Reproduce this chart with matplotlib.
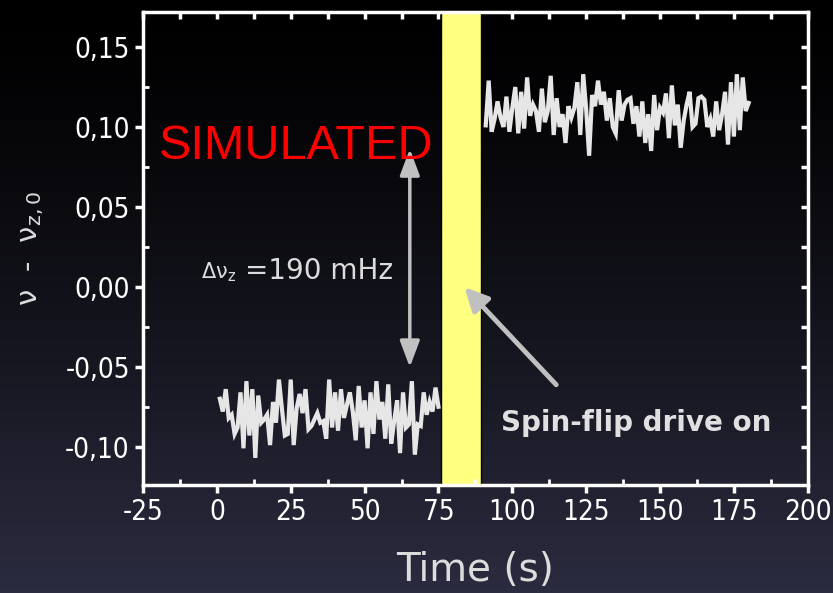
import numpy as np
import matplotlib.pyplot as plt
from matplotlib.ticker import FixedLocator, MultipleLocator, FuncFormatter

plt.rcParams['axes.unicode_minus'] = False

# lower branch (before spin flip), t = 1..75 s
t_low = np.arange(1, 76)
nu_low = [-0.070, -0.078, -0.064, -0.082, -0.080, -0.092, -0.088, -0.066, -0.101, -0.059,
          -0.093, -0.064, -0.107, -0.068, -0.085, -0.083, -0.080, -0.099, -0.072, -0.085,
          -0.058, -0.076, -0.093, -0.092, -0.058, -0.099, -0.076, -0.067, -0.079, -0.064,
          -0.089, -0.087, -0.083, -0.079, -0.085, -0.084, -0.095, -0.058, -0.088, -0.066,
          -0.090, -0.064, -0.082, -0.074, -0.066, -0.078, -0.096, -0.062, -0.088, -0.071,
          -0.101, -0.066, -0.092, -0.059, -0.083, -0.072, -0.095, -0.061, -0.098, -0.084,
          -0.071, -0.104, -0.066, -0.088, -0.086, -0.059, -0.105, -0.086, -0.087, -0.066,
          -0.080, -0.072, -0.078, -0.063, -0.075]

# upper branch (after spin flip), t = 91..180 s
t_high = np.arange(91, 181)
nu_high = [0.101, 0.129, 0.097, 0.105, 0.116, 0.106, 0.100, 0.119, 0.097, 0.112,
           0.125, 0.096, 0.122, 0.099, 0.131, 0.107, 0.114, 0.110, 0.097, 0.124,
           0.103, 0.110, 0.132, 0.095, 0.118, 0.100, 0.108, 0.090, 0.113, 0.106,
           0.112, 0.128, 0.095, 0.133, 0.111, 0.082, 0.120, 0.113, 0.129, 0.114,
           0.122, 0.104, 0.118, 0.100, 0.096, 0.123, 0.104, 0.114, 0.117, 0.118,
           0.102, 0.113, 0.094, 0.116, 0.090, 0.108, 0.085, 0.120, 0.098, 0.112,
           0.109, 0.121, 0.093, 0.126, 0.101, 0.114, 0.087, 0.104, 0.114, 0.122,
           0.100, 0.102, 0.118, 0.119, 0.117, 0.100, 0.105, 0.094, 0.116, 0.098,
           0.108, 0.122, 0.089, 0.128, 0.094, 0.133, 0.098, 0.131, 0.110, 0.115]

drive_on = (76, 89.5)
x_ticks = [-25, 0, 25, 50, 75, 100, 125, 150, 175, 200]
y_ticks = [-0.10, -0.05, 0.00, 0.05, 0.10, 0.15]

fig = plt.figure(figsize=(8.33, 5.93), dpi=100)

# dark slide background, black at top to navy at bottom
bg = fig.add_axes([0, 0, 1, 1], zorder=-10)
grad = np.linspace(0, 1, 256)[:, None]
c_top = np.array([0.0, 0.0, 0.0])
c_bot = np.array([0.17, 0.17, 0.25])
img = c_top + (c_bot - c_top) * grad[..., None] ** 1.3
bg.imshow(np.repeat(img, 2, axis=1), aspect='auto', extent=[0, 1, 0, 1], origin='upper')
bg.axis('off')

ax = fig.add_axes([0.1717, 0.182, 0.798, 0.798])
ax.patch.set_alpha(0)

ax.axvspan(*drive_on, facecolor='#ffff80', edgecolor='black', lw=1, zorder=1)
ax.plot(t_low, nu_low, color='#e6e6e6', lw=3, solid_joinstyle='miter', zorder=3)
ax.plot(t_high, nu_high, color='#e6e6e6', lw=3, solid_joinstyle='miter', zorder=3)

ax.set_xlim(-25, 200)
ax.set_ylim(-0.124, 0.172)

for s in ax.spines.values():
    s.set_color('white')
    s.set_linewidth(2.5)

ax.xaxis.set_major_locator(FixedLocator(x_ticks))
ax.yaxis.set_major_locator(FixedLocator(y_ticks))
ax.xaxis.set_minor_locator(MultipleLocator(12.5))
ax.yaxis.set_minor_locator(MultipleLocator(0.025))
ax.yaxis.set_major_formatter(FuncFormatter(lambda v, p: f'{v:.2f}'.replace('.', ',').replace('-0,00', '0,00')))
ax.tick_params(which='major', direction='out', length=6, width=2.5, colors='white', labelsize=20)
ax.tick_params(which='minor', direction='in', length=4, width=2, colors='white')
for lab in ax.get_xticklabels() + ax.get_yticklabels():
    lab.set_fontstretch('condensed')

top = ax.secondary_xaxis('top')
top.xaxis.set_major_locator(FixedLocator(x_ticks))
top.xaxis.set_minor_locator(MultipleLocator(12.5))
top.tick_params(which='both', direction='in', length=5, width=2.5, colors='white', labeltop=False)
right = ax.secondary_yaxis('right')
right.yaxis.set_major_locator(FixedLocator(y_ticks))
right.yaxis.set_minor_locator(MultipleLocator(0.025))
right.tick_params(which='both', direction='in', length=5, width=2.5, colors='white', labelright=False)
for sp in list(top.spines.values()) + list(right.spines.values()):
    sp.set_visible(False)

ax.set_xlabel('Time (s)', color='#dcdcdc', fontsize=28, labelpad=18)
ax.set_ylabel('ν  -  ν$_{\\mathregular{z,0}}$', color='#dcdcdc', fontsize=21, labelpad=14)

ax.text(-19.5, 0.0875, 'SIMULATED', color='red', fontsize=35, family='Liberation Sans',
        va='center', ha='left', zorder=5)
ax.text(-5.5, 0.009, 'Δν$_{\\mathregular{z}}$', color='#dcdcdc', fontsize=15,
        va='center', ha='left')
ax.text(9.5, 0.010, '=190 mHz', color='#dcdcdc', fontsize=20,
        va='center', ha='left')
ax.annotate('', xy=(65.3, 0.088), xytext=(65.3, -0.052),
            arrowprops=dict(arrowstyle='<|-|>,head_length=1.6,head_width=0.6', color='#c0c0c0', lw=2.5),
            zorder=4)
ax.annotate('', xy=(83.2, 0.001), xytext=(115.5, -0.0625),
            arrowprops=dict(arrowstyle='-|>,head_length=1.4,head_width=0.7', color='#c0c0c0', lw=3.5),
            zorder=4)
ax.text(96, -0.085, 'Spin-flip drive on', color='#e0e0e0', fontsize=20, fontweight='bold',
        va='center', ha='left')

fig.savefig('out.png', dpi=100)
